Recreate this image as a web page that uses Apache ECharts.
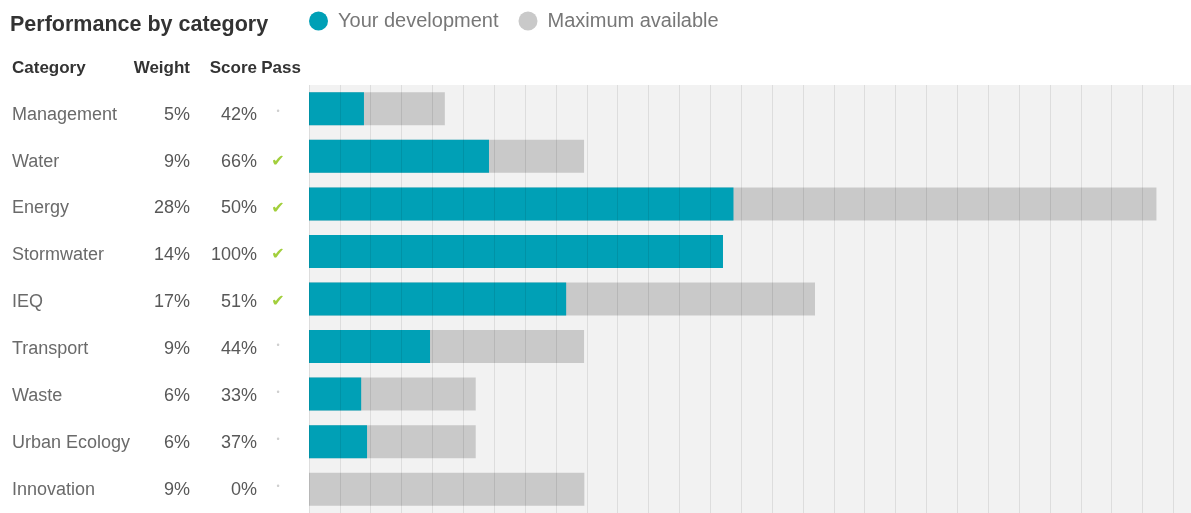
<!DOCTYPE html>
<html>
<head>
<meta charset="utf-8">
<script src="https://cdn.jsdelivr.net/npm/echarts@6/dist/echarts.min.js"></script>
<style>
html,body{margin:0;padding:0;background:#fff;}
#chart{width:1191px;height:513px;}
</style>
</head>
<body>
<div id="chart"></div>
<script>
const categories = ['Management','Water','Energy','Stormwater','IEQ','Transport','Waste','Urban Ecology','Innovation'];
const weights = ['5%','9%','28%','14%','17%','9%','6%','6%','9%'];
const scores = ['42%','66%','50%','100%','51%','44%','33%','37%','0%'];
const passes = [false,true,true,true,true,false,false,false,false];
const headers = ['Category','Weight','Score','Pass'];
const yourDevelopment = [1.78,5.83,13.75,13.41,8.33,3.92,1.69,1.88,0];
const maximumAvailable = [4.40,8.91,27.45,13.41,16.39,8.91,5.40,5.40,8.92];

const FONT = '"Liberation Sans", Arial, Helvetica, sans-serif';
const TEAL = '#00a0b6';
const GREY = '#c9c9c9';

const rowKeys = ['__header__'].concat(categories);
const HEAD = {fontFamily:FONT,fontSize:17,fontWeight:'bold',color:'#333'};

// table column grids (label-only axes)
const cols = [
  {left:310, margin:298, align:'left',
   fmt:(i)=> i===0 ? '{h|'+headers[0]+'}' : '{v|'+categories[i-1]+'}', color:'#6a6a6a'},
  {left:190, margin:0, align:'right',
   fmt:(i)=> i===0 ? '{h|'+headers[1]+'}' : '{v|'+weights[i-1]+'}', color:'#585858'},
  {left:257, margin:0, align:'right',
   fmt:(i)=> i===0 ? '{h|'+headers[2]+'}' : '{v|'+scores[i-1]+'}', color:'#585858'},
  {left:278, margin:0, align:'center',
   fmt:(i)=> i===0 ? '{hp|'+headers[3]+'}' : (passes[i-1] ? '{ok|\u2714}' : '{no|\u2022}'), color:'#585858'}
];

const grids = [{left:309,right:0,top:85,bottom:-7,show:true,backgroundColor:'#f2f2f2',borderWidth:0}];
const xAxes = [{type:'value',gridIndex:0,min:0,max:28.57,interval:1,z:5,
     axisLine:{show:false},axisTick:{show:false},axisLabel:{show:false},
     splitLine:{show:true,lineStyle:{color:'rgba(0,0,0,0.085)',width:1}}}];
const yAxes = [{type:'category',gridIndex:0,inverse:true,data:categories,
     axisLine:{show:false},axisTick:{show:false},axisLabel:{show:false},splitLine:{show:false}}];

cols.forEach((c, ci) => {
  const gi = ci + 1;
  grids.push({left:c.left, width:10, top:44.5, bottom:-3.5, show:false});
  xAxes.push({type:'value', gridIndex:gi, show:false});
  yAxes.push({type:'category', gridIndex:gi, inverse:true, data:rowKeys,
    axisLine:{show:false}, axisTick:{show:false}, splitLine:{show:false},
    axisLabel:{show:true, align:c.align, margin:c.margin, verticalAlign:'middle',
      formatter:function(v, i){ return c.fmt(i); },
      rich:{
        h:HEAD,
        hp:Object.assign({}, HEAD, {padding:[0,0,0,6]}),
        v:{fontFamily:FONT,fontSize:18,color:c.color},
        ok:{fontFamily:'"DejaVu Sans", sans-serif',fontSize:16,color:'#a2cf3c'},
        no:{fontFamily:FONT,fontSize:9,color:'#cfcfcf',padding:[0,0,7,0]}
      }}
  });
});

const chart = echarts.init(document.getElementById('chart'), null, {renderer:'canvas'});
chart.setOption({
  backgroundColor:'#ffffff',
  animation:false,
  title:{
    text:'Performance by category',
    left:5, top:9,
    textStyle:{fontFamily:FONT,fontSize:21.5,fontWeight:'bold',color:'#333'}
  },
  legend:{
    left:304, top:6,
    icon:'circle',
    itemWidth:19, itemHeight:19, itemGap:20,
    textStyle:{fontFamily:FONT,fontSize:20,color:'#777',padding:[0,0,0,5]},
    data:['Your development','Maximum available']
  },
  grid:grids,
  xAxis:xAxes,
  yAxis:yAxes,
  series:[
    {name:'Maximum available',type:'bar',xAxisIndex:0,yAxisIndex:0,
     data:maximumAvailable,barWidth:33,itemStyle:{color:GREY},z:2},
    {name:'Your development',type:'bar',xAxisIndex:0,yAxisIndex:0,
     data:yourDevelopment,barWidth:33,barGap:'-100%',itemStyle:{color:TEAL},z:3}
  ]
});
</script>
</body>
</html>
